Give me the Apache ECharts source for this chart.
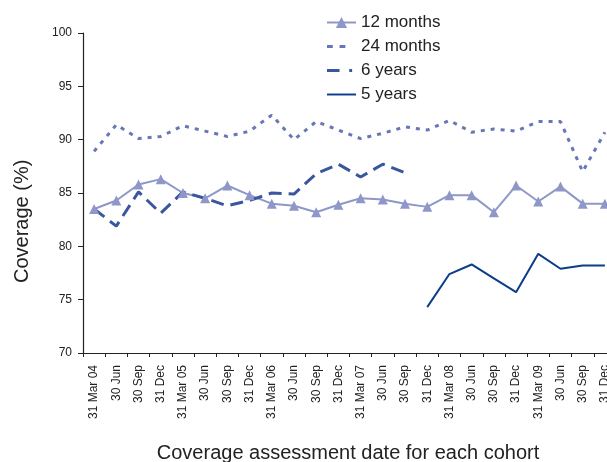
<!DOCTYPE html>
<html><head><meta charset="utf-8">
<script src="https://cdn.jsdelivr.net/npm/echarts@6/dist/echarts.min.js"></script>
<style>html,body{margin:0;padding:0;background:#fff;overflow:hidden}#c{width:616px;height:462px}</style>
</head><body><div id="c"></div>
<script>
const categories = ["31 Mar 04","30 Jun","30 Sep","31 Dec","31 Mar 05","30 Jun","30 Sep","31 Dec","31 Mar 06","30 Jun","30 Sep","31 Dec","31 Mar 07","30 Jun","30 Sep","31 Dec","31 Mar 08","30 Jun","30 Sep","31 Dec","31 Mar 09","30 Jun","30 Sep","31 Dec"];
const months12 = [83.5,84.3,85.8,86.3,85.0,84.5,85.7,84.8,84.0,83.8,83.2,83.9,84.5,84.4,84.0,83.7,84.8,84.8,83.2,85.7,84.2,85.6,84.0,84.0];
const months24 = [88.9,91.4,90.1,90.3,91.3,90.8,90.3,90.8,92.3,90.0,91.7,90.9,90.1,90.6,91.2,90.9,91.8,90.7,91.0,90.8,91.7,91.7,87.0,90.7];
const years6 = [83.5,81.9,85.1,83.1,85.1,84.5,83.8,84.3,85.0,84.9,86.8,87.7,86.5,87.7,86.9,null,null,null,null,null,null,null,null,null];
const years5 = [null,null,null,null,null,null,null,null,null,null,null,null,null,null,null,74.3,77.4,78.3,77.0,75.7,79.3,77.9,78.2,78.2];
const yTicks = [70,75,80,85,90,95,100];
const seriesNames = ['12 months','24 months','6 years','5 years'];

const font = "Liberation Sans, Arial, sans-serif";
const chart = echarts.init(document.getElementById('c'), null, {renderer:'canvas'});
chart.setOption({
  animation:false,
  backgroundColor:'#fff',
  grid:{left:83, top:33, bottom:109, right:0, containLabel:false},
  legend:{
    orient:'vertical', left:321, top:9, itemWidth:29, itemHeight:14, itemGap:7,
    textStyle:{fontFamily:font, fontSize:17, color:'#222'},
    data:[
      {name:seriesNames[0]},
      {name:seriesNames[1], icon:'path://M0,0h6v3h-6z M13,0h6v3h-6z M29.9,1.4h0.1v0.1h-0.1z'},
      {name:seriesNames[2], icon:'path://M0,0h13v3h-13z M23,0h3v3h-3z M29.9,1.4h0.1v0.1h-0.1z'},
      {name:seriesNames[3], icon:'path://M0,0h30v2h-30z'}
    ]
  },
  xAxis:{
    type:'category', data:categories, boundaryGap:true,
    axisLine:{lineStyle:{color:'#222', width:1.2}},
    axisTick:{show:true, length:4, inside:false, alignWithLabel:false, lineStyle:{color:'#222'}},
    axisLabel:{rotate:90, interval:0, margin:12, fontFamily:font, fontSize:12, color:'#222'}
  },
  yAxis:{
    type:'value', min:70, max:100, interval:5,
    axisLine:{show:true, lineStyle:{color:'#222', width:1.2}},
    axisTick:{show:true, length:5, lineStyle:{color:'#222'}},
    splitLine:{show:false},
    axisLabel:{margin:11, fontFamily:font, fontSize:12, color:'#222',
      formatter:function(v){return yTicks.indexOf(v)>=0 ? String(v) : '';}}
  },
  graphic:[
    {type:'text', x:348, y:443, style:{text:'Coverage assessment date for each cohort', font:'20px '+font, fill:'#222', textAlign:'center'}},
    {type:'text', x:12, y:283, rotation:Math.PI/2, style:{text:'Coverage (%)', font:'20px '+font, fill:'#222'}}
  ],
  series:[
    {name:seriesNames[0], type:'line', data:months12, symbol:'triangle', symbolSize:10,
      itemStyle:{color:'#8e97c8'}, lineStyle:{color:'#8e97c8', width:2}},
    {name:seriesNames[1], type:'line', data:months24, symbol:'none',
      itemStyle:{color:'#6677b6'}, lineStyle:{color:'#6677b6', width:3, type:[4,6]}},
    {name:seriesNames[2], type:'line', data:years6, symbol:'none',
      itemStyle:{color:'#3a579e'}, lineStyle:{color:'#3a579e', width:3, type:[13,7]}},
    {name:seriesNames[3], type:'line', data:years5, symbol:'none',
      itemStyle:{color:'#0b3d8a'}, lineStyle:{color:'#0b3d8a', width:2}}
  ]
});
</script></body></html>
